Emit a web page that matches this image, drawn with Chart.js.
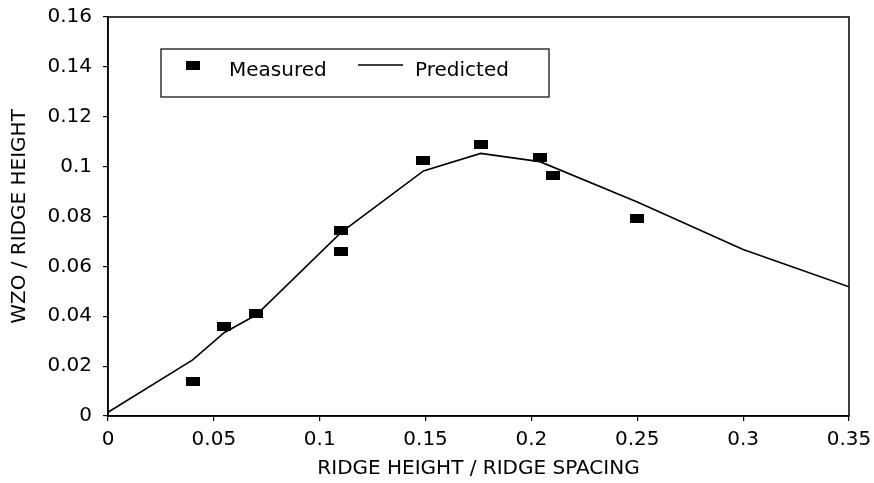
<!DOCTYPE html>
<html>
<head>
<meta charset="utf-8">
<script src="https://cdn.jsdelivr.net/npm/chart.js@4/dist/chart.umd.min.js"></script>
<style>
  html, body { margin: 0; padding: 0; background: #fff; }
  #wrap { width: 874px; height: 483px; }
</style>
</head>
<body>
<div id="wrap"><canvas id="chart" width="874" height="483"></canvas></div>
<script>
// ---- data ----
const measuredX = [0.04, 0.055, 0.07, 0.11, 0.11, 0.149, 0.176, 0.204, 0.21, 0.25];
const measuredY = [0.014, 0.036, 0.041, 0.0742, 0.0658, 0.1024, 0.109, 0.1036, 0.0965, 0.079];

const predictedX = [0, 0.04, 0.055, 0.07, 0.11, 0.149, 0.176, 0.204, 0.25, 0.3, 0.35];
const predictedY = [0.0015, 0.0225, 0.0335, 0.0405, 0.0735, 0.0983, 0.1053, 0.102, 0.0858, 0.0668, 0.0518];

const xTicks = [0, 0.05, 0.1, 0.15, 0.2, 0.25, 0.3, 0.35];
const xTickLabels = ['0', '0.05', '0.1', '0.15', '0.2', '0.25', '0.3', '0.35'];
const yTicks = [0, 0.02, 0.04, 0.06, 0.08, 0.1, 0.12, 0.14, 0.16];
const yTickLabels = ['0', '0.02', '0.04', '0.06', '0.08', '0.1', '0.12', '0.14', '0.16'];

const FONT = 'DejaVu Sans';

// wide black block used as the "Measured" marker
const marker = document.createElement('canvas');
marker.width = 14;
marker.height = 9;
const mctx = marker.getContext('2d');
mctx.fillStyle = '#000';
mctx.fillRect(0, 0, 14, 9);

// frame round the plot area + legend box drawn inside it
const frameAndLegend = {
  id: 'frameAndLegend',
  afterDraw(chart) {
    const { ctx, chartArea: a } = chart;
    ctx.save();
    ctx.strokeStyle = '#000';
    ctx.lineWidth = 1.5;
    ctx.strokeRect(a.left, a.top, a.right - a.left, a.bottom - a.top);

    const bx = a.left + 53, by = a.top + 32, bw = 388, bh = 48;
    ctx.lineWidth = 1.2;
    ctx.strokeRect(bx, by, bw, bh);

    const ds = chart.data.datasets;
    ctx.font = '20px "' + FONT + '"';
    ctx.fillStyle = '#000';
    ctx.textBaseline = 'middle';
    ctx.textAlign = 'left';
    ctx.drawImage(marker, bx + 25, by + 12);
    ctx.fillText(ds[0].label, bx + 68, by + 22);
    ctx.beginPath();
    ctx.lineWidth = 1.4;
    ctx.moveTo(bx + 197, by + 16);
    ctx.lineTo(bx + 242, by + 16);
    ctx.stroke();
    ctx.fillText(ds[1].label, bx + 254, by + 22);
    ctx.restore();
  }
};

new Chart(document.getElementById('chart'), {
  type: 'scatter',
  data: {
    datasets: [
      {
        label: 'Measured',
        data: measuredX.map((x, i) => ({ x, y: measuredY[i] })),
        pointStyle: marker,
        pointRadius: 7,
        showLine: false
      },
      {
        label: 'Predicted',
        data: predictedX.map((x, i) => ({ x, y: predictedY[i] })),
        showLine: true,
        borderColor: '#000',
        borderWidth: 1.6,
        pointRadius: 0,
        tension: 0
      }
    ]
  },
  options: {
    responsive: false,
    animation: false,
    layout: { padding: { top: 17, right: 25, left: 0, bottom: 0 } },
    plugins: {
      legend: { display: false },
      tooltip: { enabled: false }
    },
    scales: {
      x: {
        type: 'linear',
        min: 0,
        max: 0.35,
        afterFit: s => { s.height = 67; s.paddingLeft = 0; s.paddingRight = 0; },
        afterBuildTicks: s => { s.ticks = xTicks.map(v => ({ value: v })); },
        border: { color: '#000', width: 1.5 },
        grid: { drawOnChartArea: false, color: '#000', tickLength: 5, lineWidth: 1.2 },
        ticks: {
          color: '#000',
          padding: 7,
          maxRotation: 0,
          font: { family: FONT, size: 20 },
          callback: (v, i) => xTickLabels[i]
        },
        title: {
          display: true,
          text: 'RIDGE HEIGHT / RIDGE SPACING',
          color: '#000',
          padding: { top: 0, bottom: 2 },
          font: { family: FONT, size: 20 }
        }
      },
      y: {
        type: 'linear',
        min: 0,
        max: 0.16,
        afterFit: s => { s.width = 108; s.paddingTop = 0; s.paddingBottom = 0; },
        afterBuildTicks: s => { s.ticks = yTicks.map(v => ({ value: v })); },
        border: { color: '#000', width: 1.5 },
        grid: { drawOnChartArea: false, color: '#000', tickLength: 5, lineWidth: 1.2 },
        ticks: {
          color: '#000',
          padding: 11,
          font: { family: FONT, size: 20 },
          callback: (v, i) => yTickLabels[i]
        },
        title: {
          display: true,
          text: 'WZO / RIDGE HEIGHT',
          color: '#000',
          padding: { top: 8, bottom: 0 },
          font: { family: FONT, size: 20 }
        }
      }
    }
  },
  plugins: [frameAndLegend]
});
</script>
</body>
</html>
